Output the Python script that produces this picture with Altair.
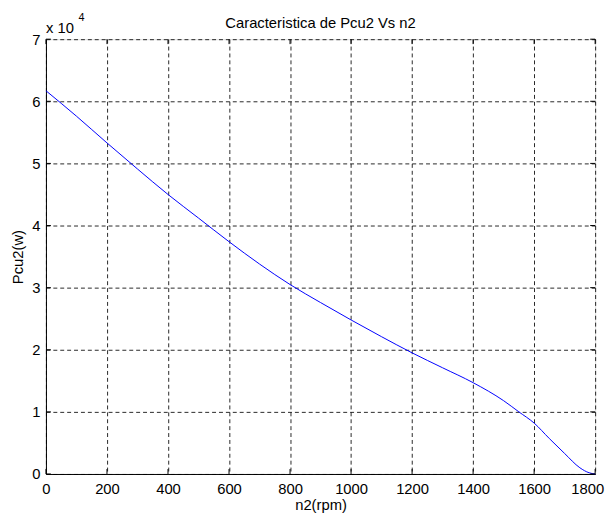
import altair as alt
import pandas as pd

n_rpm = [0, 100, 200, 300, 400, 500, 600, 700, 800, 900, 1000, 1100, 1200,
         1300, 1400, 1500, 1550, 1600, 1650, 1700, 1750, 1780, 1800]
pcu2_e4 = [6.17, 5.76, 5.33, 4.91, 4.50, 4.12, 3.74, 3.38, 3.05, 2.76, 2.48, 2.21,
           1.95, 1.71, 1.47, 1.18, 1.00, 0.82, 0.57, 0.33, 0.10, 0.02, 0.00]
x_ticks = [0, 200, 400, 600, 800, 1000, 1200, 1400, 1600, 1800]
y_ticks = [0, 1, 2, 3, 4, 5, 6, 7]
title_text = "Caracteristica de Pcu2 Vs n2"
x_title = "n2(rpm)"
y_title = "Pcu2(w)"

df = pd.DataFrame({"n2": n_rpm, "pcu2": pcu2_e4})
xt = pd.DataFrame({"v": x_ticks})
yt = pd.DataFrame({"v": y_ticks})

FONT = "Liberation Sans"
FS = 15
W, H = 557, 441
TICK = 5

x_scale = alt.Scale(domain=[0, 1800], nice=False, zero=False)
y_scale = alt.Scale(domain=[0, 7], nice=False)

x_axis = alt.Axis(title=x_title, values=x_ticks, format="d", grid=True,
                  gridDash=[4, 3], gridColor="#000000", gridOpacity=0.85,
                  domainColor="#000000", tickSize=0,
                  labelFont=FONT, labelFontSize=FS, labelColor="#000000",
                  labelPadding=8, labelFlush=False,
                  labelOffset={"condition": {"test": "datum.value == 1800", "value": -8},
                               "value": 0},
                  titleFont=FONT, titleFontSize=FS, titleFontWeight="normal",
                  titleColor="#000000", titlePadding=1)
y_axis = alt.Axis(title=y_title, values=y_ticks, format="d", grid=True,
                  gridDash=[4, 3], gridColor="#000000", gridOpacity=0.85,
                  domainColor="#000000", tickSize=0,
                  labelFont=FONT, labelFontSize=FS, labelColor="#000000",
                  labelPadding=6, labelFlush=False,
                  titleFont=FONT, titleFontSize=FS, titleFontWeight="normal",
                  titleColor="#000000", titlePadding=6)

line = alt.Chart(df).mark_line(color="#0000ff", strokeWidth=1, interpolate="monotone").encode(
    x=alt.X("n2:Q", scale=x_scale, axis=x_axis),
    y=alt.Y("pcu2:Q", scale=y_scale, axis=y_axis),
)

# inward tick marks on all four sides
xb = alt.Chart(xt).mark_rule(color="#000000", strokeWidth=1).encode(
    x=alt.X("v:Q", scale=x_scale, axis=x_axis), y=alt.value(H), y2=alt.value(H - TICK))
xtp = alt.Chart(xt).mark_rule(color="#000000", strokeWidth=1).encode(
    x=alt.X("v:Q", scale=x_scale, axis=x_axis), y=alt.value(0), y2=alt.value(TICK))
yl = alt.Chart(yt).mark_rule(color="#000000", strokeWidth=1).encode(
    y=alt.Y("v:Q", scale=y_scale, axis=y_axis), x=alt.value(0), x2=alt.value(TICK))
yr = alt.Chart(yt).mark_rule(color="#000000", strokeWidth=1).encode(
    y=alt.Y("v:Q", scale=y_scale, axis=y_axis), x=alt.value(W), x2=alt.value(W - TICK))

title = alt.Chart(pd.DataFrame({"t": [title_text]})).mark_text(
    font=FONT, fontSize=FS, align="center", baseline="middle", color="#000000"
).encode(text="t:N", x=alt.value(W / 2), y=alt.value(-16))

exp_base = alt.Chart(pd.DataFrame({"t": ["x 10"]})).mark_text(
    font=FONT, fontSize=FS, align="left", baseline="middle", color="#000000"
).encode(text="t:N", x=alt.value(0), y=alt.value(-11))

exp_sup = alt.Chart(pd.DataFrame({"t": ["4"]})).mark_text(
    font=FONT, fontSize=11, align="left", baseline="middle", color="#000000"
).encode(text="t:N", x=alt.value(33), y=alt.value(-21))

chart = alt.layer(line, xb, xtp, yl, yr, title, exp_base, exp_sup).properties(
    width=W, height=H,
    autosize=alt.AutoSizeParams(type="none"),
    padding={"left": 38.5, "top": 28, "right": 10, "bottom": 40},
).configure_view(stroke="#000000", strokeWidth=1).configure(background="white")

chart.save("out.html", embed_options={"renderer": "svg", "actions": False})
